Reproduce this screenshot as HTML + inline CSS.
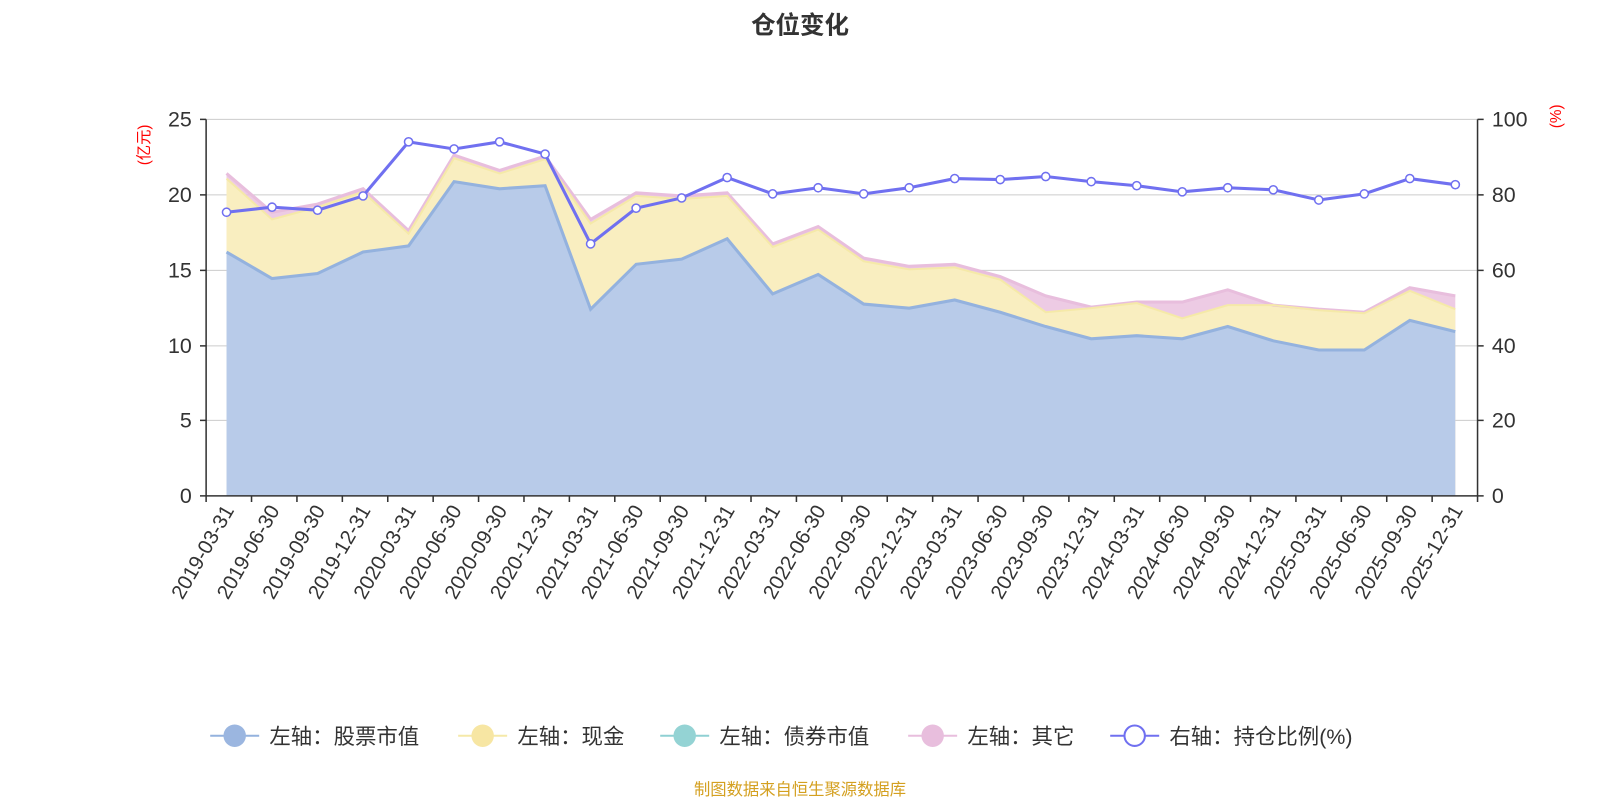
<!DOCTYPE html>
<html><head><meta charset="utf-8"><style>
html,body{margin:0;padding:0;background:#fff;}
svg{display:block;font-family:"Liberation Sans","Noto Sans CJK SC",sans-serif;}
</style></head><body>
<svg width="1600" height="800" viewBox="0 0 1568 784" preserveAspectRatio="none" xmlns="http://www.w3.org/2000/svg">
<text x="784" y="33" text-anchor="middle" font-size="24" font-weight="bold" fill="#333">仓位变化</text>
<g stroke="#ccc" stroke-width="1">
<line x1="202" y1="117" x2="1448" y2="117"/><line x1="202" y1="191" x2="1448" y2="191"/>
<line x1="202" y1="265" x2="1448" y2="265"/><line x1="202" y1="339" x2="1448" y2="339"/>
<line x1="202" y1="412" x2="1448" y2="412"/>
</g>
<polygon fill="#e8bedd" opacity="0.8" points="222,170 266.6,208 311.2,200 355.8,185 400.4,226 445,152 489.6,167 534.2,153 578.8,215 623.4,189 668,192 712.6,189 757.2,239 801.8,222 846.4,253 891,261 935.6,259 980.2,271 1024.8,290 1069.4,301 1114,296 1158.6,296 1203.2,284 1247.8,299 1292.4,303 1337,306 1381.6,282 1426.2,290 1426.2,486 222,486"/>
<polygon fill="#f9eec0" points="222,175 266.6,215 311.2,203 355.8,188 400.4,229 445,155 489.6,170 534.2,156 578.8,219 623.4,192 668,195 712.6,192 757.2,242 801.8,225 846.4,256 891,264 935.6,262 980.2,274 1024.8,306 1069.4,302 1114,297 1158.6,312 1203.2,299 1247.8,299 1292.4,304 1337,307 1381.6,285 1426.2,303 1426.2,486 222,486"/>
<polygon fill="#b8cbe9" points="222,247 266.6,273 311.2,268 355.8,247 400.4,241 445,178 489.6,185 534.2,182 578.8,303 623.4,259 668,254 712.6,234 757.2,288 801.8,269 846.4,298 891,302 935.6,294 980.2,306 1024.8,320 1069.4,332 1114,329 1158.6,332 1203.2,320 1247.8,334 1292.4,343 1337,343 1381.6,314 1426.2,325 1426.2,486 222,486"/>
<polyline fill="none" stroke="#e8bedd" stroke-width="3" points="222,170 266.6,208 311.2,200 355.8,185 400.4,226 445,152 489.6,167 534.2,153 578.8,215 623.4,189 668,192 712.6,189 757.2,239 801.8,222 846.4,253 891,261 935.6,259 980.2,271 1024.8,290 1069.4,301 1114,296 1158.6,296 1203.2,284 1247.8,299 1292.4,303 1337,306 1381.6,282 1426.2,290"/>
<polyline fill="none" stroke="#f5e9a8" stroke-width="2" points="222,175 266.6,215 311.2,203 355.8,188 400.4,229 445,155 489.6,170 534.2,156 578.8,219 623.4,192 668,195 712.6,192 757.2,242 801.8,225 846.4,256 891,264 935.6,262 980.2,274 1024.8,306 1069.4,302 1114,297 1158.6,312 1203.2,299 1247.8,299 1292.4,304 1337,307 1381.6,285 1426.2,303"/>
<polyline fill="none" stroke="#94b2de" stroke-width="3" points="222,247 266.6,273 311.2,268 355.8,247 400.4,241 445,178 489.6,185 534.2,182 578.8,303 623.4,259 668,254 712.6,234 757.2,288 801.8,269 846.4,298 891,302 935.6,294 980.2,306 1024.8,320 1069.4,332 1114,329 1158.6,332 1203.2,320 1247.8,334 1292.4,343 1337,343 1381.6,314 1426.2,325"/>
<g stroke="#333" stroke-width="1.5" fill="none">
<line x1="202" y1="117" x2="202" y2="486"/><line x1="1448" y1="117" x2="1448" y2="486"/>
<line x1="202" y1="486" x2="1448" y2="486"/>
<path d="M196 117H202M196 191H202M196 265H202M196 339H202M196 412H202M196 486H202"/>
<path d="M1448 117H1454M1448 191H1454M1448 265H1454M1448 339H1454M1448 412H1454M1448 486H1454"/>
<path d="M202 486v6M246.5 486v6M291 486v6M335.5 486v6M380 486v6M424.5 486v6M469 486v6M513.5 486v6M558 486v6M602.5 486v6M647 486v6M691.5 486v6M736 486v6M780.5 486v6M825 486v6M869.5 486v6M914 486v6M958.5 486v6M1003 486v6M1047.5 486v6M1092 486v6M1136.5 486v6M1181 486v6M1225.5 486v6M1270 486v6M1314.5 486v6M1359 486v6M1403.5 486v6M1448 486v6"/>
</g>
<g font-size="21" fill="#333" text-anchor="end">
<text x="188" y="124">25</text><text x="188" y="198">20</text><text x="188" y="272">15</text><text x="188" y="346">10</text><text x="188" y="419">5</text><text x="188" y="493">0</text>
</g>
<g font-size="21" fill="#333" text-anchor="start">
<text x="1462" y="124">100</text><text x="1462" y="198">80</text><text x="1462" y="272">60</text><text x="1462" y="346">40</text><text x="1462" y="419">20</text><text x="1462" y="493">0</text>
</g>
<text transform="translate(146,142) rotate(-90)" text-anchor="middle" font-size="15" fill="#f00">(亿元)</text>
<text transform="translate(1530,114) rotate(-90)" text-anchor="middle" font-size="15" fill="#f00">(%)</text>
<polyline fill="none" stroke="#7070f0" stroke-width="3" points="222,208 266.6,203 311.2,206 355.8,192 400.4,139 445,146 489.6,139 534.2,151 578.8,239 623.4,204 668,194 712.6,174 757.2,190 801.8,184 846.4,190 891,184 935.6,175 980.2,176 1024.8,173 1069.4,178 1114,182 1158.6,188 1203.2,184 1247.8,186 1292.4,196 1337,190 1381.6,175 1426.2,181"/>
<g fill="#fff" stroke="#7070f0" stroke-width="1.5">
<circle cx="222" cy="208" r="4"/><circle cx="266.6" cy="203" r="4"/><circle cx="311.2" cy="206" r="4"/><circle cx="355.8" cy="192" r="4"/><circle cx="400.4" cy="139" r="4"/><circle cx="445" cy="146" r="4"/><circle cx="489.6" cy="139" r="4"/><circle cx="534.2" cy="151" r="4"/><circle cx="578.8" cy="239" r="4"/><circle cx="623.4" cy="204" r="4"/><circle cx="668" cy="194" r="4"/><circle cx="712.6" cy="174" r="4"/><circle cx="757.2" cy="190" r="4"/><circle cx="801.8" cy="184" r="4"/><circle cx="846.4" cy="190" r="4"/><circle cx="891" cy="184" r="4"/><circle cx="935.6" cy="175" r="4"/><circle cx="980.2" cy="176" r="4"/><circle cx="1024.8" cy="173" r="4"/><circle cx="1069.4" cy="178" r="4"/><circle cx="1114" cy="182" r="4"/><circle cx="1158.6" cy="188" r="4"/><circle cx="1203.2" cy="184" r="4"/><circle cx="1247.8" cy="186" r="4"/><circle cx="1292.4" cy="196" r="4"/><circle cx="1337" cy="190" r="4"/><circle cx="1381.6" cy="175" r="4"/><circle cx="1426.2" cy="181" r="4"/>
</g>
<g font-size="20" fill="#333" text-anchor="end">
<text transform="translate(230,500) rotate(-60)">2019-03-31</text>
<text transform="translate(274.6,500) rotate(-60)">2019-06-30</text>
<text transform="translate(319.2,500) rotate(-60)">2019-09-30</text>
<text transform="translate(363.8,500) rotate(-60)">2019-12-31</text>
<text transform="translate(408.4,500) rotate(-60)">2020-03-31</text>
<text transform="translate(453,500) rotate(-60)">2020-06-30</text>
<text transform="translate(497.6,500) rotate(-60)">2020-09-30</text>
<text transform="translate(542.2,500) rotate(-60)">2020-12-31</text>
<text transform="translate(586.8,500) rotate(-60)">2021-03-31</text>
<text transform="translate(631.4,500) rotate(-60)">2021-06-30</text>
<text transform="translate(676,500) rotate(-60)">2021-09-30</text>
<text transform="translate(720.6,500) rotate(-60)">2021-12-31</text>
<text transform="translate(765.2,500) rotate(-60)">2022-03-31</text>
<text transform="translate(809.8,500) rotate(-60)">2022-06-30</text>
<text transform="translate(854.4,500) rotate(-60)">2022-09-30</text>
<text transform="translate(899,500) rotate(-60)">2022-12-31</text>
<text transform="translate(943.6,500) rotate(-60)">2023-03-31</text>
<text transform="translate(988.2,500) rotate(-60)">2023-06-30</text>
<text transform="translate(1032.8,500) rotate(-60)">2023-09-30</text>
<text transform="translate(1077.4,500) rotate(-60)">2023-12-31</text>
<text transform="translate(1122,500) rotate(-60)">2024-03-31</text>
<text transform="translate(1166.6,500) rotate(-60)">2024-06-30</text>
<text transform="translate(1211.2,500) rotate(-60)">2024-09-30</text>
<text transform="translate(1255.8,500) rotate(-60)">2024-12-31</text>
<text transform="translate(1300.4,500) rotate(-60)">2025-03-31</text>
<text transform="translate(1345,500) rotate(-60)">2025-06-30</text>
<text transform="translate(1389.6,500) rotate(-60)">2025-09-30</text>
<text transform="translate(1434.2,500) rotate(-60)">2025-12-31</text>
</g>
<g font-size="21" fill="#333">
<line x1="206" y1="721" x2="254" y2="721" stroke="#94b2de" stroke-width="2"/><circle cx="230" cy="721" r="11" fill="#9bb6e0"/>
<text x="264" y="729">左轴：股票市值</text>
<line x1="449" y1="721" x2="497" y2="721" stroke="#f5e9a8" stroke-width="2"/><circle cx="473" cy="721" r="11" fill="#f7e6a3"/>
<text x="507" y="729">左轴：现金</text>
<line x1="647" y1="721" x2="695" y2="721" stroke="#8fd0d3" stroke-width="2"/><circle cx="671" cy="721" r="11" fill="#94d3d4"/>
<text x="705" y="729">左轴：债券市值</text>
<line x1="890" y1="721" x2="938" y2="721" stroke="#e8bedd" stroke-width="2"/><circle cx="914" cy="721" r="11" fill="#e8bedd"/>
<text x="948" y="729">左轴：其它</text>
<line x1="1088" y1="721" x2="1136" y2="721" stroke="#7070f0" stroke-width="2"/><circle cx="1112" cy="721" r="10" fill="#fff" stroke="#7070f0" stroke-width="2"/>
<text x="1146" y="729">右轴：持仓比例(%)</text>
</g>
<text x="784" y="779" text-anchor="middle" font-size="16" fill="#d4a020">制图数据来自恒生聚源数据库</text>
</svg>
</body></html>
